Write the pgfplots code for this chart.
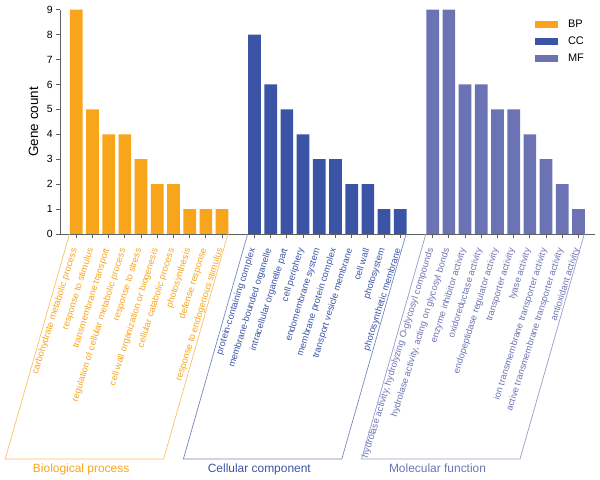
\documentclass[border=0pt]{standalone}
\usepackage{pgfplots}
\pgfplotsset{compat=1.18}
\usepackage{fontspec}
\setmainfont{Liberation Sans}
\definecolor{bp}{RGB}{249,165,27}
\definecolor{cc}{RGB}{59,84,165}
\definecolor{mf}{RGB}{108,115,180}
\definecolor{axc}{RGB}{95,95,95}
\newcommand{\B}[1]{\textcolor{bp}{#1}}
\newcommand{\C}[1]{\textcolor{cc}{#1}}
\newcommand{\M}[1]{\textcolor{mf}{#1}}
\pgfplotsset{sqleg/.style={legend image code/.code={\fill[##1] (0bp,-3.7bp) rectangle (23bp,3.7bp);}}}
\begin{document}
\begin{tikzpicture}
\begin{axis}[
  x=16.2bp, y=24.93bp,
  xmin=-1, xmax=32, ymin=0, ymax=9,
  axis lines=left,
  axis line style={-, draw=axc, line width=0.8bp},
  ybar, bar width=12.7bp, bar shift=0pt,
  every axis plot/.append style={sqleg},
  tick align=outside, major tick length=4bp,
  tick style={draw=axc, line width=0.8bp},
  ytick={0,1,2,3,4,5,6,7,8,9},
  xtick={0,1,2,3,4,5,6,7,8,9,11,12,13,14,15,16,17,18,19,20,22,23,24,25,26,27,28,29,30,31},
  xticklabels={
    \B{carbohydrate metabolic process},
    \B{response to stimulus},
    \B{transmembrane transport},
    \B{regulation of cellular metabolic process},
    \B{response to stress},
    \B{cell wall organization or biogenesis},
    \B{cellular catabolic process},
    \B{photosynthesis},
    \B{defense response},
    \B{response to endogenous stimulus},
    \C{protein-containing complex},
    \C{membrane-bounded organelle},
    \C{intracellular organelle part},
    \C{cell periphery},
    \C{endomembrane system},
    \C{membrane protein complex},
    \C{transport vesicle membrane},
    \C{cell wall},
    \C{photosystem},
    \C{photosynthetic membrane},
    {\M{hydrolase activity, hydrolyzing O-glycosyl compounds}},
    {\M{hydrolase activity, acting on glycosyl bonds}},
    \M{enzyme inhibitor activity},
    \M{oxidoreductase activity},
    \M{endopeptidase regulator activity},
    \M{transporter activity},
    \M{lyase activity},
    \M{ion transmembrane transporter activity},
    \M{active transmembrane transporter activity},
    \M{antioxidant activity}
  },
  xticklabel style={font=\fontsize{9.3}{11}\selectfont, rotate=72.5, anchor=east, inner sep=1bp, xshift=-9.6bp, yshift=-1.8bp},
  yticklabel style={font=\fontsize{10.5}{12}\selectfont},
  /pgf/number format/assume math mode=true,
  ylabel={Gene count},
  ylabel style={font=\fontsize{13.5}{15}\selectfont, at={(axis description cs:-0.0496,0.5)}, anchor=center},
  clip=false,
  legend style={draw=none, fill=none, at={(axis cs:28.31,8.6)}, anchor=north west,
    font=\fontsize{11}{13}\selectfont, inner sep=0pt, row sep=8bp, column sep=10bp,
    nodes={inner sep=0pt}},
  legend cell align=left,
]
\addplot[fill=bp, draw=none] coordinates {(0,9)(1,5)(2,4)(3,4)(4,3)(5,2)(6,2)(7,1)(8,1)(9,1)};
\addplot[fill=cc, draw=none] coordinates {(11,8)(12,6)(13,5)(14,4)(15,3)(16,3)(17,2)(18,2)(19,1)(20,1)};
\addplot[fill=mf, draw=none] coordinates {(22,9)(23,9)(24,6)(25,6)(26,5)(27,5)(28,4)(29,3)(30,2)(31,1)};
\legend{BP,CC,MF}
\draw[bp!70, line width=0.7bp] (axis cs:-0.42,0) -- (axis cs:-4.39,-9.03) -- (axis cs:5.39,-9.03) -- (axis cs:9.36,0);
\draw[cc!70, line width=0.7bp] (axis cs:10.58,0) -- (axis cs:6.61,-9.03) -- (axis cs:16.39,-9.03) -- (axis cs:20.36,0);
\draw[mf!70, line width=0.7bp] (axis cs:21.58,0) -- (axis cs:17.61,-9.03) -- (axis cs:27.39,-9.03) -- (axis cs:31.36,0);
\node[bp, anchor=base, font=\fontsize{12}{14}\selectfont] at (axis cs:0.3,-9.55) {Biological process};
\node[cc, anchor=base, font=\fontsize{12}{14}\selectfont] at (axis cs:11.3,-9.55) {Cellular component};
\node[mf, anchor=base, font=\fontsize{12}{14}\selectfont] at (axis cs:22.3,-9.55) {Molecular function};
\coordinate (BBa) at (axis cs:-4.71,9.386);
\coordinate (BBb) at (axis cs:32.33,-9.83);
\end{axis}
\pgfresetboundingbox
\path[use as bounding box] (BBa) rectangle (BBb);
\end{tikzpicture}
\end{document}
